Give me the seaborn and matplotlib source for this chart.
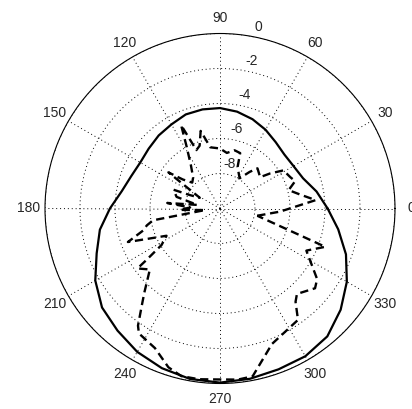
import numpy as np
import matplotlib
matplotlib.use('Agg')
import matplotlib.pyplot as plt
import seaborn as sns

sns.set_style('white')
plt.rcParams['font.family'] = ['Liberation Sans', 'DejaVu Sans']

# smooth pattern (dB)
solid_deg = [0, 10, 20, 30, 40, 50, 60, 70, 80, 90, 100, 110, 120, 130, 140, 150, 160, 170,
             180, 190, 200, 210, 220, 230, 240, 250, 260, 270, 280, 290, 300, 310, 320, 330,
             340, 350, 360]
solid_db = [-3.85, -4.4, -4.95, -5.15, -5.2, -5.05, -4.8, -4.57, -4.38, -4.26, -4.25, -4.28,
            -4.45, -4.55, -4.68, -4.74, -4.6, -4.3, -3.71, -3.03, -2.5, -1.77, -1.2, -0.89,
            -0.54, -0.29, -0.11, -0.05, -0.12, -0.22, -0.25, -0.46, -1.0, -1.63, -2.34, -3.14,
            -3.85]

# measured pattern (dB)
dash_deg = [-11, -3, 5, 10, 15, 20, 24, 31, 35, 38, 47, 51, 57, 67, 70, 76, 83, 90, 99, 104,
            108, 112, 115, 118, 124, 131, 137, 142, 145, 152, 156, 158, 165, 171, 174, 178,
            182, 186, 190, 193, 196, 200, 204, 207, 212, 215, 216, 221, 228, 231, 235, 237,
            245, 252, 257, 263, 270, 276, 281, 291, 297, 305, 309, 312, 320, 324, 334, 340, 349]
dash_db = [-7.83, -6.57, -4.51, -5.37, -5.94, -5.43, -5.6, -5.77, -6.51, -7.09, -6.86, -7.31,
           -7.94, -7.43, -6.63, -6.57, -6.8, -6.57, -6.46, -5.43, -6.23, -6.4, -4.74, -5.89,
           -7.03, -7.66, -7.83, -7.31, -6.4, -8.69, -8.11, -7.14, -7.43, -8.69, -6.97, -8.29,
           -7.71, -9.14, -6.11, -5.71, -5.43, -4.4, -5.89, -6.57, -6.06, -4.86, -4.17, -4.69,
           -3.54, -2.91, -1.83, -1.49, -1.2, -0.46, -0.17, -0.17, -0.23, -0.17, -0.23, -1.71,
           -2.0, -2.23, -3.14, -3.43, -2.91, -3.14, -4.51, -3.6, -7.83]

theta_ticks = list(range(0, 360, 30))
r_ticks = [-8, -6, -4, -2, 0]

fig = plt.figure(figsize=(4.12, 4.09), dpi=100)
ax = fig.add_axes([45 / 412, 25.5 / 409, 350 / 412, 350 / 409], projection='polar')

sns.lineplot(x=np.deg2rad(solid_deg), y=solid_db, ax=ax, sort=False, estimator=None,
             color='k', lw=1.6)
sns.lineplot(x=np.deg2rad(dash_deg), y=dash_db, ax=ax, sort=False, estimator=None,
             color='k', lw=1.7, linestyle=(0, (3.5, 2)))

ax.set_ylim(-10, 0)
ax.set_thetagrids(theta_ticks, [str(t) for t in theta_ticks])
ax.set_rgrids(r_ticks, labels=[''] * len(r_ticks))
ax.grid(True, color='k', lw=0.7, linestyle=(0, (1, 3)))
ax.spines['polar'].set_color('k')
ax.spines['polar'].set_linewidth(0.8)
ax.tick_params(axis='x', pad=1, labelsize=10)
for v in r_ticks:
    ax.text(np.deg2rad(78), v + 0.62, str(v), ha='center', va='center', fontsize=10)

fig.savefig('out.png', dpi=100, facecolor='white')
